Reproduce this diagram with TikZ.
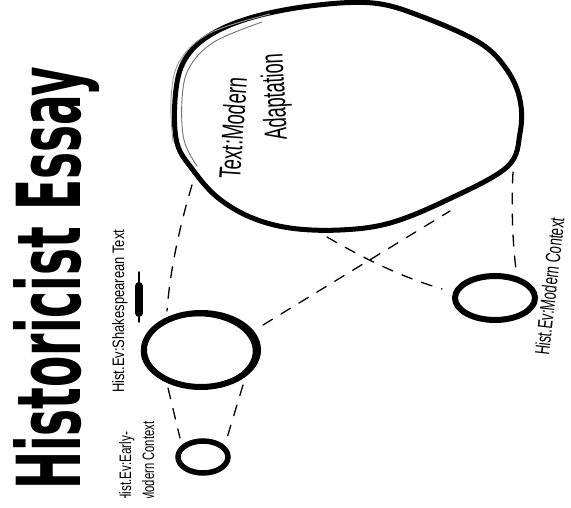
\documentclass[tikz,border=0pt]{standalone}
\usepackage{graphicx}
\usepackage{fontspec}
\setmainfont{Liberation Sans}
\newfontfamily\titlefont{DejaVu Sans}
\usetikzlibrary{shapes.geometric}
\tikzset{
  ink/.style={draw=black, line width=#1, line cap=round, line join=round},
  ink/.default=5pt,
  faint/.style={draw=black!55, line width=0.9pt, line cap=round},
  conn/.style={draw=black, line width=1.3pt, dash pattern=on 11pt off 10pt, line cap=round},
  hand/.style={rotate=90, anchor=base west, inner sep=0pt, text=black},
  ring/.style={ellipse, draw=black, inner sep=0pt},
}
\begin{document}
\begin{tikzpicture}[x=1pt, y=-1pt]
\fill[white] (0,0) rectangle (571,508);
\useasboundingbox (0,0) rectangle (571,508);

% title
\node[hand] (title) at (80,490) {\resizebox{423pt}{67pt}{\titlefont\bfseries Historicist Essay}};

% big circle (modern adaptation)
\draw[ink=5pt] plot[smooth cycle, tension=0.6] coordinates {(373,3) (423,17) (480,43) (507,70) (520,100) (520,133) (507,167) (447,200) (390,223) (340,230) (290,228) (250,217) (217,197) (193,170) (177,143) (175,100) (183,63) (207,37) (250,18) (310,6)};
\draw[faint] plot[smooth, tension=0.6] coordinates {(262,22) (214,42) (189,68) (182,100) (184,140) (197,166)};
\draw[faint, draw=black!40] plot[smooth, tension=0.6] coordinates {(270,14) (210,33) (179,62) (171,100) (173,142)};
\node[hand, rotate=-4] (tm1) at (240,180) {\resizebox{102pt}{22pt}{Text:Modern}};
\node[hand, rotate=3] (tm2) at (287,140) {\resizebox{87pt}{23pt}{Adaptation}};

% medium circle (Shakespearean text)
\node[ring, line width=6pt, minimum width=114pt, minimum height=74pt] (shak) at (201,350) {};
\draw[black, line width=2.5pt] (198,351) ellipse [x radius=56, y radius=36];
\node[hand] (shklbl) at (124,393) {\resizebox{163pt}{12pt}{Hist.Ev:Shakespearean Text}};
\draw[line width=8pt, line cap=round] (139,286) -- (139,313);
\draw[line width=1.5pt, line cap=round] (139,272) -- (139,322);

% small circle (early modern context)
\node[ring, line width=5.5pt, minimum width=50pt, minimum height=32pt] (early) at (203,457) {};
\begin{scope}
  \clip (100,0) rectangle (170,497);
  \node[hand] (em1) at (131,503) {\resizebox{71pt}{12pt}{Hist.Ev:Early-}};
  \node[hand] (em2) at (154,502) {\resizebox{80pt}{12pt}{Modern Context}};
\end{scope}

% right circle (modern context)
\node[ring, line width=6pt, minimum width=80pt, minimum height=44pt] (modern) at (495,298) {};
\node[hand, rotate=-6.5] (mclbl) at (549,356) {\resizebox{138pt}{15pt}{Hist.Ev:Modern Context}};

% connector end points
\coordinate (a1) at (192,185); \coordinate (a2) at (167,311);
\coordinate (b1) at (263,325); \coordinate (b2) at (450,211);
\coordinate (c1) at (327,237); \coordinate (c2) at (442,289);
\coordinate (d1) at (513,172); \coordinate (d2) at (517,277);
\coordinate (e1) at (168,388); \coordinate (e2) at (180,438);
\coordinate (f1) at (243,385); \coordinate (f2) at (227,438);

\draw[conn] (a1) .. controls (180,225) and (170,270) .. (a2);
\draw[conn] (b1) -- (b2);
\draw[conn] (c1) .. controls (370,262) and (405,278) .. (c2);
\draw[conn] (d1) .. controls (511,210) and (513,250) .. (d2);
\draw[conn] (e1) -- (e2);
\draw[conn] (f1) -- (f2);
\end{tikzpicture}
\end{document}
